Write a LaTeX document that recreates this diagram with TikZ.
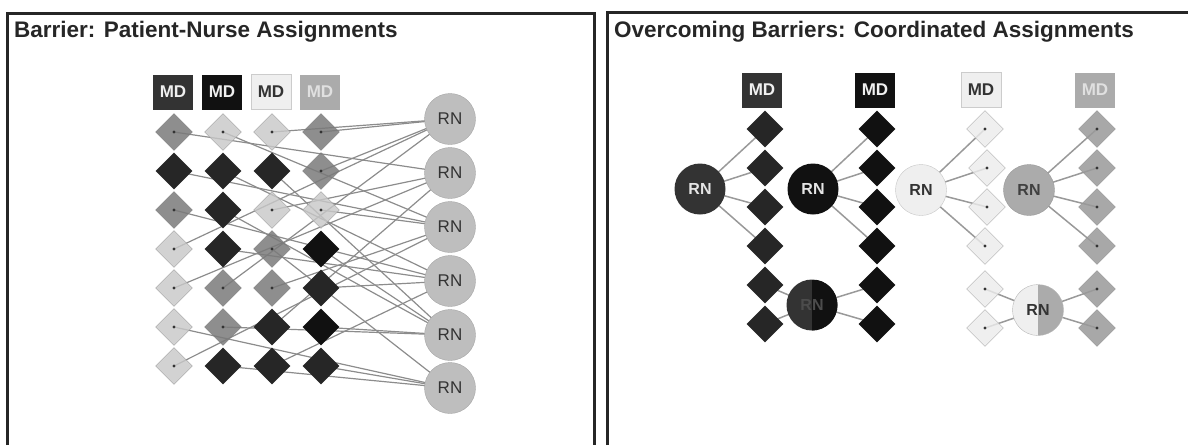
\documentclass[tikz,border=0pt]{standalone}
\usepackage{fontspec}
\setmainfont{Liberation Sans}
\usetikzlibrary{shapes.geometric}

\definecolor{mdA}{HTML}{333333}
\definecolor{mdB}{HTML}{111111}
\definecolor{mdC}{HTML}{EFEFEF}
\definecolor{mdD}{HTML}{ABABAB}
\definecolor{ptmid}{HTML}{7A7A7A}
\definecolor{ptlight}{HTML}{C8C8C8}
\definecolor{rngray}{HTML}{BEBEBE}
\definecolor{linkgray}{HTML}{8C8C8C}
\definecolor{framegray}{HTML}{262626}

\pgfdeclarelayer{links}
\pgfsetlayers{links,main}

\tikzset{
  frame/.style={framegray, line width=3pt},
  title/.style={anchor=base west, text=black!85, font=\bfseries\fontsize{22.5}{26}\selectfont},
  md/.style={rectangle, minimum width=40pt, minimum height=35pt, fill=#1, font=\bfseries\fontsize{17}{17}\selectfont},
  pt/.style={diamond, minimum size=37pt, fill=#1},
  ptD/.style={pt=black!85},
  ptK/.style={pt=mdB},
  ptM/.style={pt=ptmid, fill opacity=0.85, draw=black!50},
  ptL/.style={pt=ptlight, fill opacity=0.82, draw=black!38},
  ptC/.style={pt=black!8, fill opacity=0.82, draw=black!32},
  ptG/.style={pt=black!40, fill opacity=0.85, draw=black!42},
  rn/.style={circle, minimum size=51pt, fill=#1, font=\bfseries\fontsize{16}{16}\selectfont},
  nurse/.style={rn=rngray, draw=black!35, text=black!80, font=\fontsize{17}{17}\selectfont},
  link/.style={linkgray, line width=1.2pt},
  team/.style={black!40, line width=1.5pt},
}

\begin{document}
\begin{tikzpicture}[x=1pt, y=-1pt]
\tikzstyle{every node}+=[inner sep=0pt]
\useasboundingbox (0,0) rectangle (1188,445);

% panel frames and headings
\draw [frame] (7,445) -- (7,13) -- (594,13) -- (594,445);
\draw [frame] (607,445) -- (607,12) -- (1188,12);
\node [title] (head1) at (14,37) {Barrier: Patient-Nurse Assignments};
\node [title] (head2) at (614,37) {Overcoming Barriers: Coordinated Assignments};

% left: doctors
\node [md=mdA, text=white!94!black] (m1) at (173,92) {MD};
\node [md=mdB, text=white!94!black] (m2) at (222,92) {MD};
\node [md=mdC, draw=black!20, text=black!80] (m3) at (271,92) {MD};
\node [md=mdD, text=white!88!black] (m4) at (320,92) {MD};

% left: patients, row by row
\node [ptM] (p11) at (174,132) {};
\node [ptL] (p12) at (223,132) {};
\node [ptL] (p13) at (272,132) {};
\node [ptM] (p14) at (321,132) {};
\node [ptD] (p21) at (174,171) {};
\node [ptD] (p22) at (223,171) {};
\node [ptD] (p23) at (272,171) {};
\node [ptM] (p24) at (321,171) {};
\node [ptM] (p31) at (174,210) {};
\node [ptD] (p32) at (223,210) {};
\node [ptL] (p33) at (272,210) {};
\node [ptL] (p34) at (321,210) {};
\node [ptL] (p41) at (174,249) {};
\node [ptD] (p42) at (223,249) {};
\node [ptM] (p43) at (272,249) {};
\node [ptK] (p44) at (321,249) {};
\node [ptL] (p51) at (174,288) {};
\node [ptM] (p52) at (223,288) {};
\node [ptM] (p53) at (272,288) {};
\node [ptD] (p54) at (321,288) {};
\node [ptL] (p61) at (174,327) {};
\node [ptM] (p62) at (223,327) {};
\node [ptD] (p63) at (272,327) {};
\node [ptK] (p64) at (321,327) {};
\node [ptL] (p71) at (174,366) {};
\node [ptD] (p72) at (223,366) {};
\node [ptD] (p73) at (272,366) {};
\node [ptD] (p74) at (321,366) {};

% left: nurses
\node [nurse] (r1) at (450,119) {RN};
\node [nurse] (r2) at (450,173) {RN};
\node [nurse] (r3) at (450,227) {RN};
\node [nurse] (r4) at (450,281) {RN};
\node [nurse] (r5) at (450,335) {RN};
\node [nurse] (r6) at (450,388) {RN};

\begin{pgfonlayer}{links}
\draw [link] (p11.center) -- (r2.center);
\draw [link] (p12.center) -- (r3.center);
\draw [link] (p13.center) -- (r1.center);
\draw [link] (p14.center) -- (r1.center);
\draw [link] (p21.center) -- (r3.center);
\draw [link] (p22.center) -- (r4.center);
\draw [link] (p23.center) -- (r5.center);
\draw [link] (p24.center) -- (r1.center);
\draw [link] (p31.center) -- (r4.center);
\draw [link] (p32.center) -- (r5.center);
\draw [link] (p33.center) -- (r2.center);
\draw [link] (p34.center) -- (r3.center);
\draw [link] (p41.center) -- (r1.center);
\draw [link] (p42.center) -- (r4.center);
\draw [link] (p43.center) -- (r6.center);
\draw [link] (p44.center) -- (r5.center);
\draw [link] (p51.center) -- (r2.center);
\draw [link] (p52.center) -- (r1.center);
\draw [link] (p53.center) -- (r3.center);
\draw [link] (p54.center) -- (r4.center);
\draw [link] (p61.center) -- (r6.center);
\draw [link] (p62.center) -- (r5.center);
\draw [link] (p63.center) -- (r2.center);
\draw [link] (p64.center) -- (r5.center);
\draw [link] (p71.center) -- (r3.center);
\draw [link] (p72.center) -- (r6.center);
\draw [link] (p73.center) -- (r4.center);
\draw [link] (p74.center) -- (r6.center);
\end{pgfonlayer}

% right: doctors
\node [md=mdA, text=white!94!black] (n1) at (762,90) {MD};
\node [md=mdB, text=white!94!black] (n2) at (875,90) {MD};
\node [md=mdC, draw=black!20, text=black!80] (n3) at (981,90) {MD};
\node [md=mdD, text=white!88!black] (n4) at (1095,90) {MD};

% right: patients, one column per doctor
\node [ptD] (q11) at (765,129) {};
\node [ptD] (q12) at (765,168) {};
\node [ptD] (q13) at (765,207) {};
\node [ptD] (q14) at (765,246) {};
\node [ptD] (q15) at (765,285) {};
\node [ptD] (q16) at (765,324) {};
\node [ptK] (q21) at (877,129) {};
\node [ptK] (q22) at (877,168) {};
\node [ptK] (q23) at (877,207) {};
\node [ptK] (q24) at (877,246) {};
\node [ptK] (q25) at (877,285) {};
\node [ptK] (q26) at (877,324) {};
\node [ptC] (q31) at (985,129) {};
\node [ptC] (q32) at (987,168) {};
\node [ptC] (q33) at (987,207) {};
\node [ptC] (q34) at (985,246) {};
\node [ptC] (q35) at (985,289) {};
\node [ptC] (q36) at (985,328) {};
\node [ptG] (q41) at (1097,129) {};
\node [ptG] (q42) at (1097,168) {};
\node [ptG] (q43) at (1097,207) {};
\node [ptG] (q44) at (1097,246) {};
\node [ptG] (q45) at (1097,289) {};
\node [ptG] (q46) at (1097,328) {};

% right: nurses, two of them shared by a pair of teams
\node [rn=mdA, text=white!90!black] (s1) at (700,189) {RN};
\node [rn=mdB, text=white!90!black] (s2) at (813,189) {RN};
\node [rn=mdC, draw=black!22, text=black!80] (s3) at (921,190) {RN};
\node [rn=mdD, draw=black!40, text=black!75] (s4) at (1029,190) {RN};
\node [rn=mdA, text=black!70,
  path picture={\fill [mdB] (path picture bounding box.north) rectangle (path picture bounding box.south east);}]
  (s5) at (812,305) {RN};
\node [rn=mdC, draw=black!28, text=black!80,
  path picture={\fill [mdD] (path picture bounding box.north) rectangle (path picture bounding box.south east);}]
  (s6) at (1038,310) {RN};

\begin{pgfonlayer}{links}
\draw [team] (s1.center) -- (q11.center);
\draw [team] (s1.center) -- (q12.center);
\draw [team] (s1.center) -- (q13.center);
\draw [team] (s1.center) -- (q14.center);
\draw [team] (s2.center) -- (q21.center);
\draw [team] (s2.center) -- (q22.center);
\draw [team] (s2.center) -- (q23.center);
\draw [team] (s2.center) -- (q24.center);
\draw [team] (s3.center) -- (q31.center);
\draw [team] (s3.center) -- (q32.center);
\draw [team] (s3.center) -- (q33.center);
\draw [team] (s3.center) -- (q34.center);
\draw [team] (s4.center) -- (q41.center);
\draw [team] (s4.center) -- (q42.center);
\draw [team] (s4.center) -- (q43.center);
\draw [team] (s4.center) -- (q44.center);
\draw [team] (s5.center) -- (q15.center);
\draw [team] (s5.center) -- (q16.center);
\draw [team] (s5.center) -- (q25.center);
\draw [team] (s5.center) -- (q26.center);
\draw [team] (s6.center) -- (q35.center);
\draw [team] (s6.center) -- (q36.center);
\draw [team] (s6.center) -- (q45.center);
\draw [team] (s6.center) -- (q46.center);
\end{pgfonlayer}

% end points of the links
\foreach \p in {p11,p12,p13,p14,p24,p31,p33,p34,p41,p43,p51,p52,p53,p61,p62,p71,
                q31,q32,q33,q34,q35,q36,q41,q42,q43,q44,q45,q46}
  \fill [black!80] (\p.center) circle (1.6pt);
\end{tikzpicture}
\end{document}
